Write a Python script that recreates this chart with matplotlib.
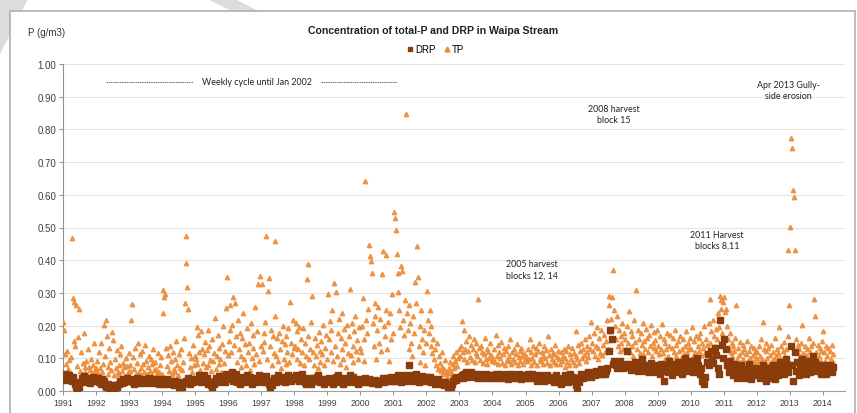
import matplotlib
matplotlib.use("Agg")
import matplotlib.pyplot as plt
from matplotlib.lines import Line2D
from matplotlib.patches import Rectangle, Polygon

plt.rcParams['font.family'] = ['Liberation Sans', 'DejaVu Sans']

# sampling: TP ~36 values a year, DRP ~24 values a year
years = list(range(1991, 2015))
tp_per_year = 36
drp_per_year = 24

tp = [
    [0.212, 0.187, 0.114, 0.083, 0.121, 0.068, 0.094, 0.057, 0.103, 0.468, 0.284, 0.152, 0.271, 0.138, 0.262, 0.077, 0.164, 0.251, 0.061, 0.118, 0.053, 0.086, 0.176, 0.072, 0.058, 0.091, 0.049, 0.127, 0.074, 0.063, 0.098, 0.052, 0.081, 0.147, 0.064, 0.069],  # 1991
    [0.062, 0.093, 0.054, 0.118, 0.071, 0.148, 0.059, 0.084, 0.203, 0.107, 0.216, 0.168, 0.073, 0.051, 0.131, 0.088, 0.064, 0.181, 0.157, 0.048, 0.097, 0.069, 0.124, 0.058, 0.079, 0.052, 0.112, 0.139, 0.061, 0.087, 0.073, 0.047, 0.102, 0.076, 0.057, 0.116],  # 1992
    [0.079, 0.062, 0.218, 0.266, 0.104, 0.068, 0.132, 0.053, 0.087, 0.148, 0.059, 0.113, 0.071, 0.049, 0.122, 0.083, 0.057, 0.141, 0.092, 0.052, 0.074, 0.108, 0.061, 0.097, 0.048, 0.082, 0.128, 0.063, 0.089, 0.068, 0.054, 0.117, 0.059, 0.078, 0.103, 0.051],  # 1993
    [0.238, 0.308, 0.287, 0.297, 0.131, 0.077, 0.109, 0.062, 0.138, 0.093, 0.052, 0.119, 0.068, 0.097, 0.058, 0.152, 0.081, 0.049, 0.112, 0.071, 0.127, 0.063, 0.088, 0.161, 0.268, 0.391, 0.474, 0.318, 0.251, 0.117, 0.073, 0.101, 0.059, 0.142, 0.079, 0.108],  # 1994
    [0.098, 0.197, 0.082, 0.171, 0.118, 0.064, 0.183, 0.129, 0.087, 0.112, 0.149, 0.073, 0.124, 0.188, 0.081, 0.138, 0.096, 0.061, 0.158, 0.091, 0.117, 0.223, 0.068, 0.107, 0.172, 0.084, 0.133, 0.099, 0.058, 0.143, 0.198, 0.087, 0.121, 0.254, 0.348, 0.109],  # 1995
    [0.153, 0.186, 0.262, 0.118, 0.203, 0.287, 0.142, 0.268, 0.167, 0.089, 0.218, 0.127, 0.178, 0.072, 0.108, 0.161, 0.238, 0.097, 0.143, 0.078, 0.192, 0.118, 0.148, 0.063, 0.207, 0.102, 0.131, 0.172, 0.083, 0.257, 0.113, 0.182, 0.328, 0.092, 0.351, 0.137],  # 1996
    [0.327, 0.121, 0.178, 0.149, 0.212, 0.474, 0.098, 0.306, 0.345, 0.138, 0.188, 0.079, 0.169, 0.117, 0.228, 0.458, 0.108, 0.162, 0.091, 0.177, 0.128, 0.071, 0.152, 0.198, 0.097, 0.143, 0.082, 0.168, 0.119, 0.193, 0.088, 0.271, 0.147, 0.112, 0.218, 0.131],  # 1997
    [0.138, 0.207, 0.098, 0.183, 0.127, 0.197, 0.087, 0.158, 0.118, 0.192, 0.081, 0.148, 0.108, 0.342, 0.389, 0.168, 0.097, 0.128, 0.212, 0.292, 0.119, 0.078, 0.162, 0.107, 0.141, 0.069, 0.181, 0.122, 0.088, 0.153, 0.112, 0.202, 0.079, 0.132, 0.171, 0.098],  # 1998
    [0.298, 0.158, 0.213, 0.118, 0.187, 0.248, 0.092, 0.331, 0.137, 0.302, 0.108, 0.177, 0.219, 0.082, 0.162, 0.128, 0.238, 0.097, 0.191, 0.148, 0.072, 0.203, 0.117, 0.168, 0.312, 0.109, 0.208, 0.139, 0.088, 0.182, 0.228, 0.121, 0.157, 0.098, 0.197, 0.132],  # 1999
    [0.118, 0.198, 0.284, 0.158, 0.091, 0.641, 0.217, 0.178, 0.252, 0.445, 0.412, 0.398, 0.362, 0.208, 0.138, 0.268, 0.228, 0.098, 0.187, 0.258, 0.148, 0.221, 0.122, 0.358, 0.428, 0.198, 0.167, 0.247, 0.415, 0.128, 0.212, 0.093, 0.238, 0.158, 0.298, 0.178],  # 2000
    [0.547, 0.528, 0.491, 0.418, 0.302, 0.362, 0.248, 0.197, 0.381, 0.368, 0.218, 0.172, 0.278, 0.847, 0.238, 0.188, 0.128, 0.262, 0.208, 0.148, 0.108, 0.228, 0.178, 0.332, 0.268, 0.442, 0.348, 0.138, 0.198, 0.088, 0.248, 0.158, 0.118, 0.187, 0.079, 0.147],  # 2001
    [0.305, 0.218, 0.178, 0.247, 0.138, 0.198, 0.117, 0.158, 0.098, 0.128, 0.078, 0.148, 0.068, 0.108, 0.087, 0.061, 0.118, 0.074, 0.052, 0.067, 0.096, 0.058, 0.043, 0.054, 0.071, 0.089, 0.062, 0.049, 0.082, 0.107, 0.069, 0.093, 0.118, 0.077, 0.101, 0.128],  # 2002
    [0.108, 0.137, 0.213, 0.118, 0.188, 0.097, 0.128, 0.152, 0.088, 0.122, 0.168, 0.104, 0.141, 0.096, 0.127, 0.158, 0.089, 0.117, 0.148, 0.107, 0.281, 0.132, 0.094, 0.139, 0.118, 0.086, 0.112, 0.161, 0.098, 0.128, 0.082, 0.119, 0.101, 0.148, 0.109, 0.091],  # 2003
    [0.097, 0.128, 0.088, 0.171, 0.108, 0.142, 0.083, 0.118, 0.102, 0.149, 0.087, 0.113, 0.131, 0.079, 0.122, 0.096, 0.138, 0.091, 0.107, 0.158, 0.084, 0.119, 0.098, 0.127, 0.089, 0.112, 0.143, 0.078, 0.103, 0.121, 0.092, 0.133, 0.108, 0.082, 0.117, 0.099],  # 2004
    [0.108, 0.092, 0.127, 0.098, 0.158, 0.081, 0.118, 0.102, 0.137, 0.088, 0.112, 0.131, 0.079, 0.122, 0.148, 0.097, 0.091, 0.119, 0.108, 0.083, 0.139, 0.101, 0.124, 0.087, 0.168, 0.109, 0.078, 0.128, 0.097, 0.117, 0.089, 0.113, 0.142, 0.082, 0.104, 0.121],  # 2005
    [0.098, 0.082, 0.118, 0.091, 0.108, 0.128, 0.072, 0.101, 0.121, 0.088, 0.138, 0.079, 0.112, 0.097, 0.131, 0.089, 0.117, 0.078, 0.182, 0.107, 0.099, 0.141, 0.087, 0.122, 0.148, 0.102, 0.129, 0.109, 0.158, 0.092, 0.118, 0.139, 0.103, 0.168, 0.127, 0.212],  # 2006
    [0.148, 0.121, 0.178, 0.108, 0.139, 0.197, 0.098, 0.131, 0.162, 0.117, 0.188, 0.109, 0.142, 0.171, 0.118, 0.152, 0.218, 0.128, 0.292, 0.262, 0.182, 0.221, 0.288, 0.371, 0.248, 0.198, 0.158, 0.228, 0.138, 0.187, 0.122, 0.168, 0.147, 0.208, 0.128, 0.178],  # 2007
    [0.158, 0.128, 0.198, 0.147, 0.245, 0.118, 0.182, 0.138, 0.168, 0.108, 0.218, 0.149, 0.308, 0.127, 0.187, 0.158, 0.117, 0.178, 0.141, 0.208, 0.112, 0.152, 0.128, 0.191, 0.162, 0.119, 0.171, 0.138, 0.201, 0.107, 0.148, 0.179, 0.131, 0.157, 0.121, 0.188],  # 2008
    [0.138, 0.112, 0.168, 0.128, 0.205, 0.117, 0.158, 0.098, 0.148, 0.129, 0.178, 0.108, 0.139, 0.172, 0.097, 0.131, 0.161, 0.118, 0.188, 0.107, 0.142, 0.091, 0.152, 0.121, 0.169, 0.102, 0.128, 0.158, 0.112, 0.138, 0.182, 0.119, 0.148, 0.098, 0.132, 0.162],  # 2009
    [0.128, 0.195, 0.108, 0.152, 0.118, 0.168, 0.097, 0.138, 0.161, 0.121, 0.178, 0.109, 0.148, 0.131, 0.198, 0.117, 0.158, 0.141, 0.112, 0.208, 0.281, 0.148, 0.182, 0.128, 0.218, 0.167, 0.138, 0.191, 0.158, 0.238, 0.197, 0.291, 0.252, 0.278, 0.178, 0.272],  # 2010
    [0.288, 0.241, 0.252, 0.198, 0.158, 0.128, 0.178, 0.118, 0.148, 0.107, 0.138, 0.121, 0.162, 0.262, 0.098, 0.131, 0.109, 0.149, 0.088, 0.118, 0.142, 0.097, 0.128, 0.081, 0.112, 0.152, 0.092, 0.121, 0.101, 0.138, 0.078, 0.109, 0.131, 0.089, 0.118, 0.102],  # 2011
    [0.118, 0.092, 0.138, 0.107, 0.158, 0.098, 0.212, 0.128, 0.088, 0.121, 0.148, 0.102, 0.131, 0.082, 0.109, 0.142, 0.091, 0.118, 0.098, 0.162, 0.108, 0.129, 0.079, 0.117, 0.197, 0.101, 0.138, 0.088, 0.122, 0.151, 0.107, 0.128, 0.097, 0.168, 0.432, 0.262],  # 2012
    [0.502, 0.774, 0.743, 0.615, 0.593, 0.431, 0.158, 0.118, 0.142, 0.097, 0.128, 0.108, 0.148, 0.201, 0.117, 0.089, 0.138, 0.109, 0.127, 0.098, 0.161, 0.119, 0.087, 0.138, 0.107, 0.148, 0.281, 0.228, 0.118, 0.098, 0.142, 0.108, 0.131, 0.091, 0.122, 0.152],  # 2013
    [0.182, 0.118, 0.091, 0.138, 0.108, 0.131, 0.082, 0.121, 0.098, 0.142, 0.088, 0.112],  # 2014
]

drp = [
    [0.041, 0.052, 0.033, 0.044, 0.048, 0.038, 0.031, 0.042, 0.022, 0.012, 0.004, 0.011, 0.028, 0.039, 0.032, 0.047, 0.041, 0.029, 0.038, 0.023, 0.031, 0.043, 0.034, 0.039],  # 1991
    [0.032, 0.041, 0.029, 0.022, 0.038, 0.031, 0.019, 0.012, 0.021, 0.009, 0.003, 0.018, 0.011, 0.004, 0.017, 0.012, 0.022, 0.031, 0.024, 0.038, 0.029, 0.033, 0.041, 0.032],  # 1992
    [0.031, 0.038, 0.027, 0.022, 0.033, 0.041, 0.029, 0.024, 0.032, 0.028, 0.037, 0.023, 0.031, 0.027, 0.039, 0.033, 0.024, 0.029, 0.038, 0.032, 0.028, 0.021, 0.031, 0.036],  # 1993
    [0.029, 0.022, 0.033, 0.038, 0.027, 0.021, 0.031, 0.028, 0.019, 0.032, 0.024, 0.029, 0.012, 0.021, 0.011, 0.028, 0.023, 0.032, 0.041, 0.029, 0.022, 0.031, 0.027, 0.038],  # 1994
    [0.038, 0.031, 0.048, 0.041, 0.029, 0.037, 0.049, 0.032, 0.039, 0.022, 0.028, 0.019, 0.012, 0.021, 0.031, 0.039, 0.028, 0.047, 0.038, 0.031, 0.042, 0.029, 0.051, 0.038],  # 1995
    [0.048, 0.039, 0.058, 0.032, 0.041, 0.052, 0.029, 0.038, 0.021, 0.031, 0.042, 0.028, 0.037, 0.049, 0.031, 0.043, 0.029, 0.022, 0.032, 0.041, 0.028, 0.039, 0.048, 0.031],  # 1996
    [0.041, 0.029, 0.038, 0.047, 0.031, 0.021, 0.012, 0.019, 0.032, 0.041, 0.028, 0.039, 0.048, 0.042, 0.031, 0.038, 0.044, 0.029, 0.041, 0.049, 0.038, 0.031, 0.042, 0.037],  # 1997
    [0.039, 0.048, 0.041, 0.031, 0.043, 0.051, 0.038, 0.029, 0.021, 0.032, 0.041, 0.028, 0.022, 0.031, 0.039, 0.032, 0.042, 0.048, 0.029, 0.038, 0.031, 0.022, 0.037, 0.031],  # 1998
    [0.029, 0.041, 0.032, 0.038, 0.022, 0.031, 0.042, 0.049, 0.028, 0.039, 0.031, 0.021, 0.032, 0.041, 0.029, 0.038, 0.048, 0.031, 0.042, 0.028, 0.037, 0.031, 0.022, 0.029],  # 1999
    [0.031, 0.038, 0.029, 0.041, 0.032, 0.028, 0.037, 0.031, 0.024, 0.029, 0.033, 0.028, 0.022, 0.031, 0.027, 0.032, 0.039, 0.029, 0.033, 0.041, 0.031, 0.038, 0.042, 0.032],  # 2000
    [0.039, 0.031, 0.042, 0.048, 0.038, 0.029, 0.041, 0.049, 0.037, 0.031, 0.043, 0.081, 0.048, 0.039, 0.031, 0.042, 0.051, 0.038, 0.029, 0.041, 0.047, 0.038, 0.031, 0.042],  # 2001
    [0.038, 0.031, 0.042, 0.029, 0.037, 0.032, 0.021, 0.031, 0.038, 0.028, 0.022, 0.029, 0.018, 0.027, 0.021, 0.011, 0.019, 0.012, 0.022, 0.032, 0.041, 0.034, 0.042, 0.039],  # 2002
    [0.042, 0.048, 0.041, 0.052, 0.058, 0.049, 0.043, 0.051, 0.057, 0.048, 0.053, 0.042, 0.049, 0.041, 0.052, 0.044, 0.049, 0.041, 0.043, 0.051, 0.042, 0.048, 0.039, 0.047],  # 2003
    [0.048, 0.041, 0.052, 0.047, 0.039, 0.051, 0.043, 0.049, 0.041, 0.044, 0.052, 0.038, 0.048, 0.042, 0.051, 0.039, 0.044, 0.049, 0.041, 0.053, 0.038, 0.043, 0.049, 0.041],  # 2004
    [0.043, 0.051, 0.039, 0.044, 0.052, 0.041, 0.048, 0.042, 0.031, 0.038, 0.049, 0.041, 0.044, 0.032, 0.039, 0.048, 0.042, 0.033, 0.041, 0.038, 0.029, 0.042, 0.049, 0.039],  # 2005
    [0.028, 0.021, 0.038, 0.031, 0.048, 0.041, 0.029, 0.039, 0.052, 0.032, 0.043, 0.038, 0.019, 0.004, 0.028, 0.041, 0.052, 0.039, 0.048, 0.042, 0.051, 0.058, 0.049, 0.043],  # 2006
    [0.052, 0.058, 0.049, 0.061, 0.053, 0.057, 0.068, 0.051, 0.059, 0.053, 0.062, 0.071, 0.121, 0.188, 0.158, 0.082, 0.091, 0.078, 0.069, 0.084, 0.093, 0.079, 0.071, 0.082],  # 2007
    [0.081, 0.122, 0.072, 0.084, 0.063, 0.071, 0.079, 0.088, 0.068, 0.061, 0.082, 0.071, 0.098, 0.078, 0.062, 0.073, 0.081, 0.058, 0.069, 0.087, 0.077, 0.068, 0.059, 0.079],  # 2008
    [0.071, 0.052, 0.083, 0.061, 0.031, 0.068, 0.078, 0.058, 0.091, 0.072, 0.049, 0.082, 0.061, 0.069, 0.088, 0.058, 0.079, 0.051, 0.071, 0.101, 0.062, 0.078, 0.068, 0.092],  # 2009
    [0.082, 0.058, 0.091, 0.069, 0.102, 0.078, 0.052, 0.071, 0.031, 0.022, 0.042, 0.088, 0.112, 0.079, 0.121, 0.098, 0.087, 0.132, 0.109, 0.071, 0.052, 0.218, 0.142, 0.102],  # 2010
    [0.158, 0.128, 0.078, 0.058, 0.091, 0.068, 0.049, 0.082, 0.061, 0.041, 0.072, 0.052, 0.079, 0.058, 0.039, 0.068, 0.048, 0.061, 0.082, 0.038, 0.062, 0.049, 0.071, 0.058],  # 2011
    [0.052, 0.071, 0.039, 0.062, 0.081, 0.048, 0.031, 0.058, 0.069, 0.041, 0.052, 0.079, 0.058, 0.038, 0.068, 0.049, 0.088, 0.061, 0.078, 0.051, 0.072, 0.098, 0.059, 0.081],  # 2012
    [0.138, 0.079, 0.031, 0.118, 0.061, 0.088, 0.049, 0.071, 0.098, 0.058, 0.082, 0.051, 0.069, 0.091, 0.058, 0.079, 0.108, 0.068, 0.089, 0.061, 0.078, 0.071, 0.052, 0.069],  # 2013
    [0.058, 0.078, 0.052, 0.069, 0.061, 0.081, 0.059, 0.072],  # 2014
]

# annotations: (text, year, value)
notes = [
    ("2008 harvest\nblock 15", 2007.67, 0.847),
    ("Apr 2013 Gully-\nside erosion", 2012.97, 0.92),
    ("2011 Harvest\nblocks 8,11", 2010.79, 0.462),
    ("2005 harvest\nblocks 12, 14", 2005.18, 0.373),
]

drp_color = '#8a3d0a'
tp_color = '#ec8a34'

def spread(rows, n):
    xs, ys = [], []
    for yr, row in zip(years, rows):
        for i, v in enumerate(row):
            xs.append(yr + (i + 0.5) / n)
            ys.append(v)
    return xs, ys

tp_x, tp_y = spread(tp, tp_per_year)
drp_x, drp_y = spread(drp, drp_per_year)

fig = plt.figure(figsize=(8.57, 4.14), dpi=100)

# grey watermark bits and chart frame
fig.patches.append(Polygon([(0, 1), (28/857, 1), (0, 1 - 55/414)], closed=True,
                           transform=fig.transFigure, facecolor='#dcdcdc', edgecolor='none', zorder=0))
fig.patches.append(Polygon([(207/857, 1), (235/857, 1), (262/857, 1 - 14/414), (236/857, 1 - 14/414)],
                           closed=True, transform=fig.transFigure, facecolor='#dcdcdc', edgecolor='none', zorder=0))
fig.patches.append(Rectangle((10/857, -0.05), 845/857, 1.05 - 12/414, transform=fig.transFigure,
                             facecolor='white', edgecolor='#b5b5b5', linewidth=1.3, zorder=1))

ax = fig.add_axes([63/857, 1 - 392/414, 782/857, 327/414])
ax.set_zorder(2)
ax.patch.set_alpha(0)

ax.plot(tp_x, tp_y, linestyle='none', marker='^', markersize=3.2, color=tp_color,
        markeredgecolor=tp_color, alpha=0.85, zorder=3)
ax.plot(drp_x, drp_y, linestyle='none', marker='s', markersize=4.2, color=drp_color,
        markeredgecolor=drp_color, zorder=4)

ax.set_xlim(1991.0, 2014.67)
ax.set_ylim(0, 1.0)
ax.set_xticks(years)
ax.set_xticklabels([str(y) for y in years], fontsize=6.3, color='#404040')
ax.set_yticks([i / 10 for i in range(11)])
ax.set_yticklabels(['%.2f' % (i / 10) for i in range(11)], fontsize=7, color='#404040')
ax.tick_params(axis='both', length=3, width=0.7, color='#909090', pad=2)
ax.grid(axis='y', color='#e4e4e4', linewidth=0.8)
ax.set_axisbelow(True)
for s in ['top', 'right']:
    ax.spines[s].set_visible(False)
ax.spines['left'].set_color('#909090')
ax.spines['bottom'].set_color('#a0a0a0')

# weekly cycle note
ax.plot([1992.3, 1994.95], [0.944, 0.944], color='#666666', linewidth=0.7, linestyle=(0, (1.5, 0.8)), zorder=3)
ax.plot([1998.8, 2001.1], [0.944, 0.944], color='#666666', linewidth=0.7, linestyle=(0, (1.5, 0.8)), zorder=3)
ax.text(1996.87, 0.947, 'Weekly cycle until Jan 2002', fontsize=6.4, family='Lato',
        ha='center', va='center', color='#222222')

for txt, x, y in notes:
    ax.text(x, y, txt, fontsize=6.4, family='Lato', ha='center', va='center',
            color='#222222', linespacing=1.35)

fig.text(433/857, 1 - 31/414, 'Concentration of total-P and DRP in Waipa Stream',
         fontsize=7.6, fontweight='bold', ha='center', va='center', color='#222222')
fig.text(28/857, 1 - 33/414, 'P (g/m3)', fontsize=7, ha='left', va='center', color='#333333')

handles = [Line2D([], [], linestyle='none', marker='s', markersize=3.5, color=drp_color),
           Line2D([], [], linestyle='none', marker='^', markersize=3.5, color=tp_color)]
fig.legend(handles, ['DRP', 'TP'], loc='center', bbox_to_anchor=(436/857, 1 - 50/414), ncol=2,
           frameon=False, fontsize=7, handlelength=0.6, handletextpad=0.2, columnspacing=0.9,
           borderpad=0)

fig.savefig('out.png', dpi=100)
